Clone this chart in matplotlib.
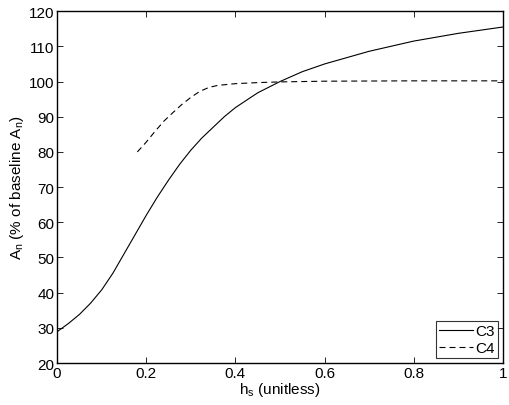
import numpy as np
import matplotlib
matplotlib.use("Agg")
import matplotlib.pyplot as plt

plt.rcParams['font.family'] = ['Liberation Sans', 'DejaVu Sans']
plt.rcParams['mathtext.default'] = 'regular'

# C3 curve
hs_c3 = [0.0, 0.025, 0.05, 0.075, 0.1, 0.125, 0.15, 0.175, 0.2, 0.225, 0.25, 0.275,
         0.3, 0.325, 0.35, 0.375, 0.4, 0.45, 0.5, 0.55, 0.6, 0.7, 0.8, 0.9, 1.0]
an_c3 = [28.9, 31.2, 33.8, 37.0, 40.8, 45.5, 51.0, 56.5, 62.0, 67.2, 72.0, 76.5,
         80.5, 84.0, 87.0, 90.0, 92.6, 96.8, 100.0, 102.8, 105.0, 108.6, 111.5, 113.7, 115.5]

# C4 curve
hs_c4 = [0.18, 0.2, 0.22, 0.24, 0.26, 0.28, 0.3, 0.32, 0.34, 0.36, 0.4, 0.45, 0.5, 0.6, 0.8, 1.0]
an_c4 = [80.0, 82.8, 85.9, 88.8, 91.2, 93.5, 95.5, 97.2, 98.3, 98.9, 99.4, 99.7, 99.9, 100.1, 100.2, 100.2]

fig = plt.figure(figsize=(5.1, 4.06), dpi=100)
ax = fig.add_axes([0.112, 0.1034, 0.874, 0.8666])
ax.plot(hs_c3, an_c3, 'k-', lw=0.8, label='C3')
ax.plot(hs_c4, an_c4, 'k--', lw=0.8, dashes=(5.4, 3.6), label='C4')

ax.set_xlim(0, 1)
ax.set_ylim(20, 120)
ax.set_xticks([0, 0.2, 0.4, 0.6, 0.8, 1])
ax.set_xticklabels(['0', '0.2', '0.4', '0.6', '0.8', '1'])
ax.set_yticks(np.arange(20, 121, 10))
ax.tick_params(direction='in', top=True, right=True, labelsize=11, length=4, width=0.6, pad=2)
for s in ax.spines.values():
    s.set_linewidth(1.0)

ax.set_xlabel('h$_s$ (unitless)', fontsize=11, labelpad=0)
ax.set_ylabel('A$_n$ (% of baseline A$_n$)', fontsize=11, labelpad=2)

leg = ax.legend(loc='lower right', fontsize=11, frameon=True, fancybox=False,
                edgecolor='k', handlelength=2.2, handletextpad=0.2,
                borderpad=0.2, labelspacing=0.2, borderaxespad=0.3)
leg.get_frame().set_linewidth(0.8)

fig.savefig('out.png', dpi=100)
